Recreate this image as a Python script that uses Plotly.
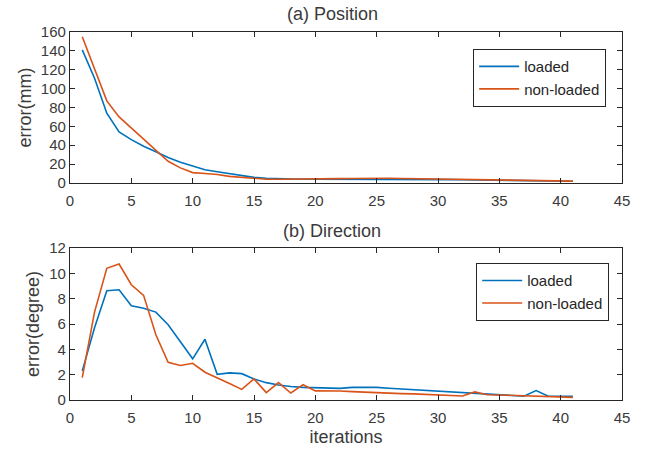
import plotly.graph_objects as go

iterations = list(range(1, 42))

pos_loaded = [141, 111, 74, 54, 46, 39, 33, 27, 22, 17.6, 14, 12, 10, 8, 6, 5, 4.5, 4, 4, 4, 4,
              4, 4.2, 4.3, 4.4, 4.4, 4.3, 4.2, 4, 3.8, 3.6, 3.4, 3.2, 3, 2.8, 2.6, 2.4, 2.2, 2, 1.9, 1.8]
pos_nonloaded = [155, 121, 87, 70, 58, 46, 34, 23, 16, 11, 10, 9, 7, 6, 5, 4, 4, 4, 4, 4.2, 4.4,
                 4.6, 4.8, 5, 5, 5, 4.8, 4.6, 4.4, 4.2, 4, 3.8, 3.5, 3.2, 3, 2.8, 2.6, 2.4, 2.2, 2.1, 2]

dir_loaded = [2.3, 5.7, 8.63, 8.7, 7.44, 7.25, 6.94, 5.94, 4.6, 3.25, 4.8, 2.03, 2.14, 2.08, 1.66,
              1.37, 1.19, 1.06, 1.0, 0.98, 0.92, 0.92, 1.0, 1.02, 1.0, 0.93, 0.87, 0.82, 0.74, 0.68,
              0.66, 0.58, 0.5, 0.45, 0.4, 0.34, 0.3, 0.74, 0.3, 0.3, 0.3]
dir_nonloaded = [1.77, 6.94, 10.4, 10.74, 9.1, 8.26, 5.15, 2.98, 2.72, 2.9, 2.19, 1.77, 1.3, 0.84,
                 1.66, 0.58, 1.37, 0.55, 1.21, 0.72, 0.72, 0.71, 0.66, 0.61, 0.56, 0.53, 0.5, 0.48,
                 0.44, 0.4, 0.37, 0.32, 0.64, 0.42, 0.4, 0.37, 0.32, 0.29, 0.29, 0.26, 0.21]

x_ticks = list(range(0, 46, 5))
pos_ticks = list(range(0, 161, 20))
dir_ticks = list(range(0, 13, 2))

BLUE = "#0072BD"
ORANGE = "#D95319"
AX = "#262626"
TXT = "#3a3a3a"
FONT = "Liberation Sans, Arial, sans-serif"

fig = go.Figure()
fig.add_trace(go.Scatter(x=iterations, y=pos_loaded, mode="lines", name="loaded",
                         line=dict(color=BLUE, width=1.6), xaxis="x", yaxis="y", legend="legend"))
fig.add_trace(go.Scatter(x=iterations, y=pos_nonloaded, mode="lines", name="non-loaded",
                         line=dict(color=ORANGE, width=1.6), xaxis="x", yaxis="y", legend="legend"))
fig.add_trace(go.Scatter(x=iterations, y=dir_loaded, mode="lines", name="loaded",
                         line=dict(color=BLUE, width=1.6), xaxis="x2", yaxis="y2", legend="legend2"))
fig.add_trace(go.Scatter(x=iterations, y=dir_nonloaded, mode="lines", name="non-loaded",
                         line=dict(color=ORANGE, width=1.6), xaxis="x2", yaxis="y2", legend="legend2"))

axis_common = dict(showgrid=False, zeroline=False, showline=True, linecolor=AX, linewidth=1.2,
                   mirror="ticks", ticks="inside", ticklen=5, tickcolor=AX, tickwidth=1,
                   automargin=False,
                   tickfont=dict(family=FONT, size=15, color=TXT))

legend_common = dict(xanchor="left", yanchor="top", bordercolor=AX, borderwidth=1.2,
                     bgcolor="white", font=dict(size=15, color=AX), tracegroupgap=0,
                     itemwidth=40)

fig.update_layout(
    width=649, height=454,
    margin=dict(l=70, r=27, t=32, b=54),
    plot_bgcolor="white", paper_bgcolor="white",
    font=dict(family=FONT, size=15, color=AX),
    xaxis=dict(range=[0, 45], tickvals=x_ticks, domain=[0, 1], anchor="y",
               ticklabelstandoff=4, **axis_common),
    yaxis=dict(range=[0, 160], tickvals=pos_ticks, domain=[0.5897, 1], anchor="x",
               title=dict(text="error(mm)", standoff=4, font=dict(size=18, color=TXT)),
               **axis_common),
    xaxis2=dict(range=[0, 45], tickvals=x_ticks, domain=[0, 1], anchor="y2",
                ticklabelstandoff=4,
                title=dict(text="iterations", standoff=5, font=dict(size=18, color=TXT)),
                **axis_common),
    yaxis2=dict(range=[0, 12], tickvals=dir_ticks, domain=[0, 0.413], anchor="x2",
                title=dict(text="error(degree)", standoff=4, font=dict(size=18, color=TXT)),
                **axis_common),
    legend=dict(x=0.730, y=0.954, **legend_common),
    legend2=dict(x=0.7355, y=0.372, **legend_common),
    showlegend=True,
    annotations=[
        dict(text="(a) Position", x=0.475, y=1, xref="paper", yref="paper", showarrow=False,
             yanchor="bottom", yshift=6, font=dict(size=18, color=TXT)),
        dict(text="(b) Direction", x=0.475, y=0.413, xref="paper", yref="paper", showarrow=False,
             yanchor="bottom", yshift=5, font=dict(size=18, color=TXT)),
    ],
)

fig.write_html("out.html")
